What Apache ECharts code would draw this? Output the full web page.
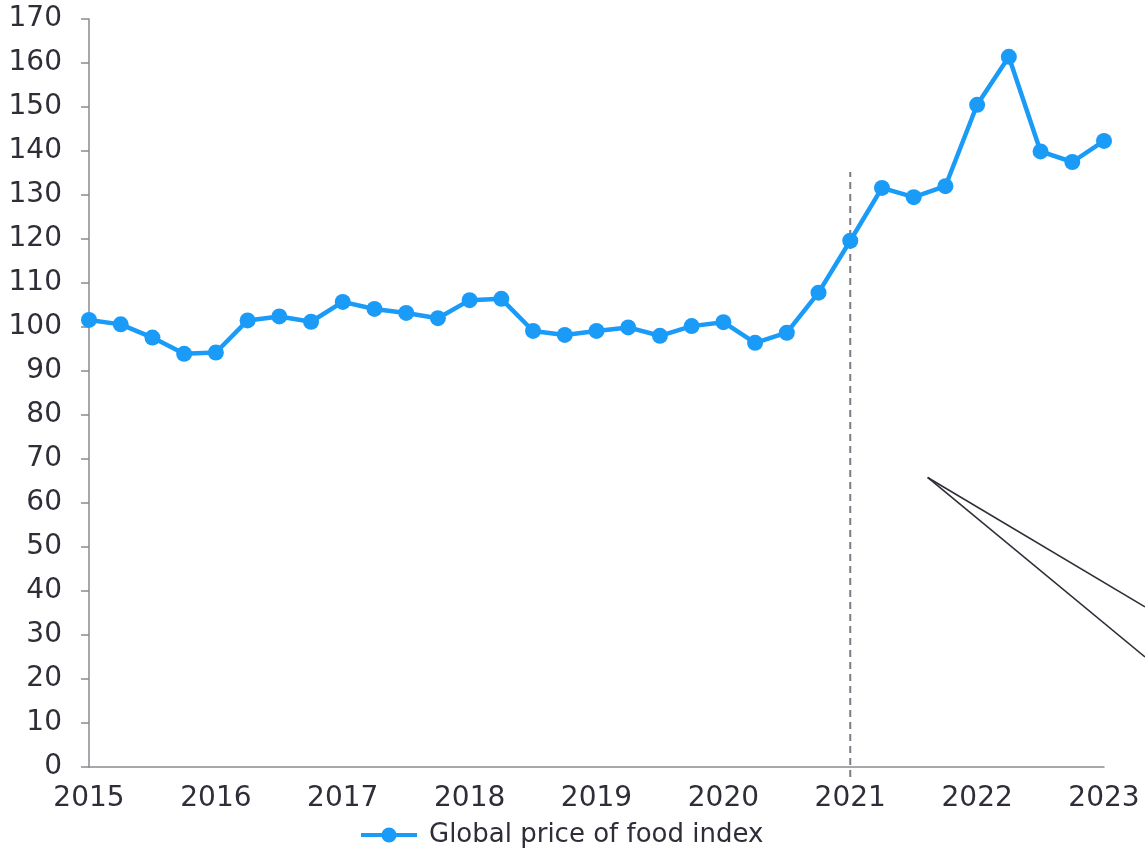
<!DOCTYPE html>
<html>
<head>
<meta charset="utf-8">
<script src="https://cdn.jsdelivr.net/npm/echarts@6/dist/echarts.min.js"></script>
<style>
  html, body { margin: 0; padding: 0; background: #fff; }
  #chart { width: 1145px; height: 850px; }
</style>
</head>
<body>
<div id="chart"></div>
<script>
// Quarterly readings, 2015 Q1 through 2023 Q1
const quarters = [
  2015.00, 2015.25, 2015.50, 2015.75,
  2016.00, 2016.25, 2016.50, 2016.75,
  2017.00, 2017.25, 2017.50, 2017.75,
  2018.00, 2018.25, 2018.50, 2018.75,
  2019.00, 2019.25, 2019.50, 2019.75,
  2020.00, 2020.25, 2020.50, 2020.75,
  2021.00, 2021.25, 2021.50, 2021.75,
  2022.00, 2022.25, 2022.50, 2022.75,
  2023.00
];
const foodIndex = [
  101.6, 100.6, 97.6, 93.9,
  94.2, 101.5, 102.4, 101.2,
  105.7, 104.1, 103.2, 102.0,
  106.1, 106.4, 99.1, 98.2,
  99.1, 99.9, 98.0, 100.2,
  101.1, 96.4, 98.7, 107.8,
  119.6, 131.6, 129.5, 132.0,
  150.5, 161.4, 139.9, 137.5,
  142.3
];
const seriesName = 'Global price of food index';
const yearTicks = [2015, 2016, 2017, 2018, 2019, 2020, 2021, 2022, 2023];

// Reference marker at the start of 2021 (runs a little below the axis)
const markerYear = 2021;
const markerRange = [-2.3, 135.2];

// Callout lines leading off the right edge
const calloutFrom = [2021.61, 65.8];
const calloutTo = [[2023.323, 36.4], [2023.323, 25.0]];

const textColor = '#2e2e38';
const axisColor = '#8a8a90';
const blue = '#1b9bf8';

const chart = echarts.init(document.getElementById('chart'), null, { renderer: 'canvas' });

chart.setOption({
  animation: false,
  textStyle: { fontFamily: 'DejaVu Sans' },
  grid: { left: 89, right: 41, top: 19, bottom: 83, containLabel: false },
  legend: {
    data: [seriesName],
    top: 817,
    left: 354,
    itemWidth: 56,
    itemHeight: 19,
    lineStyle: { width: 4 },
    textStyle: {
      color: textColor,
      fontSize: 26,
      lineHeight: 26,
      padding: [0, 0, 0, 7],
      fontFamily: 'DejaVu Sans'
    }
  },
  xAxis: {
    type: 'value',
    min: 2015,
    max: 2023,
    interval: 1,
    axisLine: { show: true, onZero: false, lineStyle: { color: axisColor, width: 1.5 } },
    axisTick: { show: false },
    splitLine: { show: false },
    axisLabel: {
      color: textColor,
      fontSize: 28,
      margin: 18,
      formatter: v => yearTicks.includes(v) ? String(v) : ''
    }
  },
  yAxis: {
    type: 'value',
    min: 0,
    max: 170,
    interval: 10,
    axisLine: { show: true, lineStyle: { color: axisColor, width: 1.5 } },
    axisTick: { show: true, length: 8, lineStyle: { color: axisColor, width: 1.5 } },
    splitLine: { show: false },
    axisLabel: { color: textColor, fontSize: 28, margin: 27 }
  },
  series: [
    {
      name: seriesName,
      type: 'line',
      data: quarters.map((q, i) => [q, foodIndex[i]]),
      symbol: 'circle',
      symbolSize: 16,
      z: 3,
      lineStyle: { color: blue, width: 4.5 },
      itemStyle: { color: blue }
    }
  ]
});

// Marker and callout lines are placed from data values through the axes,
// so they can extend past the plotting area.
function px(pt) {
  return chart.convertToPixel({ gridIndex: 0 }, pt);
}
const m0 = px([markerYear, markerRange[0]]);
const m1 = px([markerYear, markerRange[1]]);
const c0 = px(calloutFrom);
const graphics = [
  {
    type: 'line',
    z: 1,
    silent: true,
    shape: { x1: m0[0], y1: m0[1], x2: m1[0], y2: m1[1] },
    style: { stroke: '#7c7b83', lineWidth: 2, lineDash: [7, 5] }
  }
];
calloutTo.forEach(end => {
  const e = px(end);
  graphics.push({
    type: 'line',
    z: 1,
    silent: true,
    shape: { x1: c0[0], y1: c0[1], x2: e[0], y2: e[1] },
    style: { stroke: textColor, lineWidth: 1.6 }
  });
});
chart.setOption({ graphic: graphics });
</script>
</body>
</html>
